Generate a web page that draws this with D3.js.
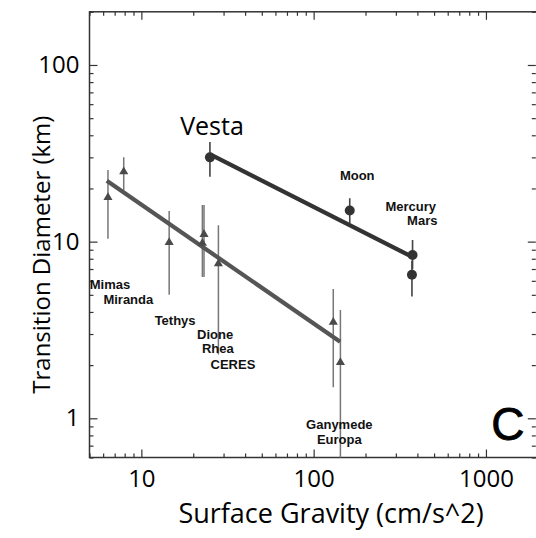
<!DOCTYPE html>
<html><head><meta charset="utf-8">
<script src="https://cdn.jsdelivr.net/npm/d3@7"></script>
<style>body{margin:0;background:#fff}</style>
</head><body>
<script>
// Rocky bodies (circles)
const rockyNames = ["Vesta", "Moon", "Mercury", "Mars"];
const rockyGravity = [25, 162, 375, 372];
const rockyDiam = [30, 15, 8.4, 6.5];
const rockyLo = [23.3, 12.7, 7.0, 4.9];
const rockyHi = [36.7, 17.6, 10.2, 7.8];
// Icy bodies (triangles)
const icyGravity = [6.4, 7.9, 14.5, 23.1, 22.6, 28, 130, 143];
const icyDiam = [17.8, 24.9, 9.9, 11.0, 9.8, 7.5, 3.5, 2.07];
const icyLo = [10.4, 19.6, 5.0, 6.3, 6.3, 2.3, 1.5, 0.5];
const icyHi = [25.4, 30.0, 14.9, 16.1, 16.1, 12.4, 5.4, 4.1];
// Fit lines
const fitRockyX = [25.6, 371];
const fitRockyY = [30.9, 8.22];
const fitIcyX = [6.3, 142.5];
const fitIcyY = [22.1, 2.71];
// Labels (anchored in data space)
const labelText = ["Moon", "Mercury", "Mars", "Mimas", "Miranda", "Tethys", "Dione", "Rhea", "CERES", "Ganymede", "Europa"];
const labelX = [179, 366, 427, 6.57, 8.4, 15.7, 26.8, 27.8, 34.0, 141, 141];
const labelY = [23.8, 15.8, 13.1, 5.76, 4.72, 3.6, 3.0, 2.47, 2.03, 0.925, 0.76];
const vestaLabel = {text: "Vesta", x: 25.7, y: 45.2};
const xTickLabels = [10, 100, 1000];
const yTickLabels = [1, 10, 100];
const xDomain = [5, 2000];
const yDomain = [0.6, 200];

const W = 536, H = 538;
const L = 89.5, R = 537.8, T = 11.8, B = 457.5;
const svg = d3.select("body").append("svg").attr("width", W).attr("height", H)
  .style("font-family", "'Open Sans', sans-serif");
svg.append("rect").attr("width", W).attr("height", H).attr("fill", "#fff");

const x = d3.scaleLog().domain(xDomain).range([L, R]);
const y = d3.scaleLog().domain(yDomain).range([B, T]);

const xMinor = x.ticks().filter(v => xTickLabels.indexOf(v) < 0);
const yMinor = y.ticks().filter(v => yTickLabels.indexOf(v) < 0);

function styleAxis(g) {
  g.select(".domain").remove();
  g.selectAll("line").attr("stroke", "#333").attr("stroke-width", 1.2);
  g.selectAll("text").attr("fill", "#000").style("font-size", "24px")
    .style("font-family", "'Open Sans', sans-serif");
}
// bottom
svg.append("g").attr("transform", `translate(0,${B})`)
  .call(d3.axisBottom(x).tickValues(xTickLabels).tickSize(-8).tickPadding(12).tickFormat(d3.format("d"))).call(styleAxis);
svg.append("g").attr("transform", `translate(0,${B})`)
  .call(d3.axisBottom(x).tickValues(xMinor).tickSize(-4).tickFormat("")).call(styleAxis);
// top
svg.append("g").attr("transform", `translate(0,${T})`)
  .call(d3.axisTop(x).tickValues(xTickLabels).tickSize(-8).tickFormat("")).call(styleAxis);
svg.append("g").attr("transform", `translate(0,${T})`)
  .call(d3.axisTop(x).tickValues(xMinor).tickSize(-4).tickFormat("")).call(styleAxis);
// left
svg.append("g").attr("transform", `translate(${L},0)`)
  .call(d3.axisLeft(y).tickValues(yTickLabels).tickSize(-8).tickPadding(10).tickFormat(d3.format("d"))).call(styleAxis);
svg.append("g").attr("transform", `translate(${L},0)`)
  .call(d3.axisLeft(y).tickValues(yMinor).tickSize(-4).tickFormat("")).call(styleAxis);
// right
svg.append("g").attr("transform", `translate(${R - 2},0)`)
  .call(d3.axisRight(y).tickValues(yTickLabels).tickSize(-8).tickFormat("")).call(styleAxis);
svg.append("g").attr("transform", `translate(${R - 2},0)`)
  .call(d3.axisRight(y).tickValues(yMinor).tickSize(-4).tickFormat("")).call(styleAxis);

// frame
svg.append("rect").attr("x", L).attr("y", T).attr("width", R - L).attr("height", B - T)
  .attr("fill", "none").attr("stroke", "#333").attr("stroke-width", 1.5);

const clip = svg.append("clipPath").attr("id", "clip").append("rect")
  .attr("x", L).attr("y", T).attr("width", R - L).attr("height", B - T);
const plot = svg.append("g").attr("clip-path", "url(#clip)");

// error bars icy
plot.selectAll(".eb2").data(icyGravity).enter().append("line")
  .attr("x1", d => x(d)).attr("x2", d => x(d))
  .attr("y1", (d, i) => y(icyLo[i])).attr("y2", (d, i) => y(icyHi[i]))
  .attr("stroke", "#777").attr("stroke-width", 1.5);
// error bars rocky
plot.selectAll(".eb1").data(rockyGravity).enter().append("line")
  .attr("x1", d => x(d)).attr("x2", d => x(d))
  .attr("y1", (d, i) => y(rockyLo[i])).attr("y2", (d, i) => y(rockyHi[i]))
  .attr("stroke", "#444").attr("stroke-width", 1.6);

// fit lines
const lineGen = d3.line().x(d => x(d[0])).y(d => y(d[1]));
plot.append("path").datum(fitIcyX.map((v, i) => [v, fitIcyY[i]]))
  .attr("d", lineGen).attr("fill", "none").attr("stroke", "#555").attr("stroke-width", 4.2);
plot.append("path").datum(fitRockyX.map((v, i) => [v, fitRockyY[i]]))
  .attr("d", lineGen).attr("fill", "none").attr("stroke", "#333").attr("stroke-width", 4.2);

// triangles
plot.selectAll(".tri").data(icyGravity).enter().append("path")
  .attr("d", d3.symbol().type(d3.symbolTriangle).size(36))
  .attr("transform", (d, i) => `translate(${x(d)},${y(icyDiam[i])})`)
  .attr("fill", "#4a4a4a");
// circles
plot.selectAll(".cir").data(rockyGravity).enter().append("circle")
  .attr("cx", d => x(d)).attr("cy", (d, i) => y(rockyDiam[i])).attr("r", 5)
  .attr("fill", "#333");

// point labels
svg.selectAll(".lbl").data(labelText).enter().append("text")
  .attr("x", (d, i) => x(labelX[i])).attr("y", (d, i) => y(labelY[i]))
  .attr("dy", "0.35em").attr("text-anchor", "middle")
  .style("font-family", "'Liberation Sans', Arial, sans-serif").style("font-weight", "bold")
  .style("font-size", "13px").attr("fill", "#111").text(d => d);

svg.append("text").attr("x", x(vestaLabel.x)).attr("y", y(vestaLabel.y)).attr("dy", "0.35em")
  .attr("text-anchor", "middle").style("font-size", "25px").attr("fill", "#000").text(vestaLabel.text);

// panel letter
svg.append("text").attr("x", R - 30).attr("y", B - 18).attr("text-anchor", "middle")
  .style("font-family", "'Liberation Sans', Arial, sans-serif").style("font-size", "46px")
  .attr("fill", "#000").attr("stroke", "#000").attr("stroke-width", 0.8).text("C");

// axis titles
svg.append("text").attr("x", 331).attr("y", 523).attr("text-anchor", "middle")
  .style("font-size", "27px").attr("fill", "#000").text("Surface Gravity (cm/s^2)");
svg.append("text").attr("transform", `translate(50,${(T + B) / 2 + 20}) rotate(-90)`)
  .attr("text-anchor", "middle").style("font-size", "24px").attr("fill", "#000")
  .text("Transition Diameter (km)");
</script>
</body></html>
